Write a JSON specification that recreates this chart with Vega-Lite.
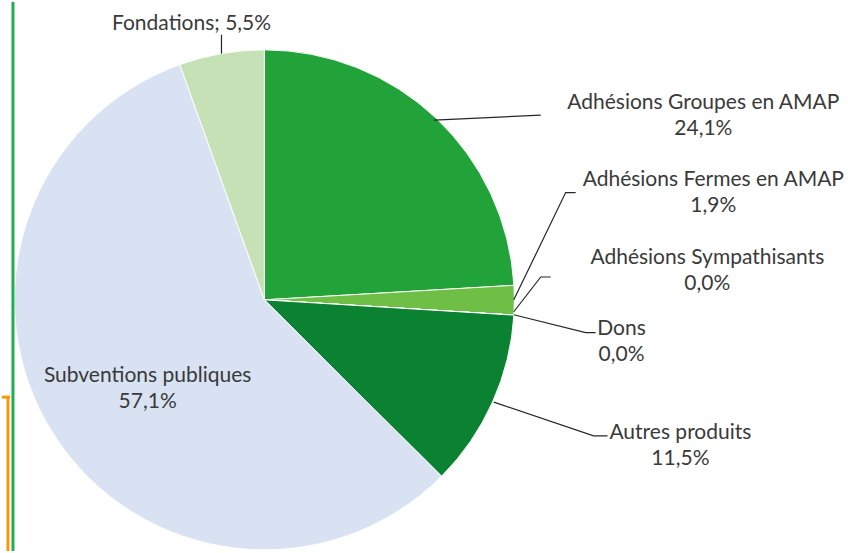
{
  "$schema": "https://vega.github.io/schema/vega-lite/v6.json",
  "autosize": {"type": "fit", "contains": "padding"},
  "width": 848,
  "height": 553,
  "padding": 0,
  "background": "white",
  "config": {"view": {"stroke": null}},
  "datasets": {
    "slices": [
      {"i": 1, "cat": "Adhésions Groupes en AMAP", "pct": 24.1},
      {"i": 2, "cat": "Adhésions Fermes en AMAP", "pct": 1.9},
      {"i": 3, "cat": "Adhésions Sympathisants", "pct": 0.0},
      {"i": 4, "cat": "Dons", "pct": 0.0},
      {"i": 5, "cat": "Autres produits", "pct": 11.5},
      {"i": 6, "cat": "Subventions publiques", "pct": 57.1},
      {"i": 7, "cat": "Fondations", "pct": 5.5}
    ],
    "labels": [
      {"cat": "Fondations", "label": "Fondations; 5,5%", "lx": 190, "ly": 22},
      {"cat": "Adhésions Groupes en AMAP", "label": "Adhésions Groupes en AMAP\n24,1%", "lx": 703, "ly": 102},
      {"cat": "Adhésions Fermes en AMAP", "label": "Adhésions Fermes en AMAP\n1,9%", "lx": 713, "ly": 179},
      {"cat": "Adhésions Sympathisants", "label": "Adhésions Sympathisants\n0,0%", "lx": 707, "ly": 258},
      {"cat": "Dons", "label": "Dons\n0,0%", "lx": 621, "ly": 329},
      {"cat": "Autres produits", "label": "Autres produits\n11,5%", "lx": 680, "ly": 434},
      {"cat": "Subventions publiques", "label": "Subventions publiques\n57,1%", "lx": 146, "ly": 377}
    ],
    "leaders": [
      {"cat": "Fondations", "k": 1, "lx": 220, "ly": 33},
      {"cat": "Fondations", "k": 2, "lx": 220, "ly": 52},
      {"cat": "Groupes", "k": 1, "lx": 433, "ly": 119},
      {"cat": "Groupes", "k": 2, "lx": 540, "ly": 114},
      {"cat": "Fermes", "k": 1, "lx": 513, "ly": 300},
      {"cat": "Fermes", "k": 2, "lx": 565, "ly": 192},
      {"cat": "Fermes", "k": 3, "lx": 575, "ly": 192},
      {"cat": "Sympathisants", "k": 1, "lx": 513, "ly": 312},
      {"cat": "Sympathisants", "k": 2, "lx": 540, "ly": 277},
      {"cat": "Sympathisants", "k": 3, "lx": 550, "ly": 277},
      {"cat": "Dons", "k": 1, "lx": 513, "ly": 315},
      {"cat": "Dons", "k": 2, "lx": 585, "ly": 333},
      {"cat": "Dons", "k": 3, "lx": 595, "ly": 333},
      {"cat": "Autres", "k": 1, "lx": 493, "ly": 403},
      {"cat": "Autres", "k": 2, "lx": 593, "ly": 437},
      {"cat": "Autres", "k": 3, "lx": 607, "ly": 437}
    ]
  },
  "layer": [
    {
      "data": {"name": "slices"},
      "mark": {"type": "arc", "outerRadius": 250, "stroke": "white", "strokeWidth": 1},
      "encoding": {
        "x": {"datum": 263, "type": "quantitative", "scale": {"domain": [0, 848], "nice": false, "zero": false}, "axis": null},
        "y": {"datum": 300, "type": "quantitative", "scale": {"domain": [0, 553], "nice": false, "zero": false, "reverse": true}, "axis": null},
        "theta": {"field": "pct", "type": "quantitative", "stack": true},
        "order": {"field": "i", "type": "quantitative"},
        "color": {
          "field": "cat",
          "type": "nominal",
          "legend": null,
          "scale": {
            "domain": ["Adhésions Groupes en AMAP", "Adhésions Fermes en AMAP", "Adhésions Sympathisants", "Dons", "Autres produits", "Subventions publiques", "Fondations"],
            "range": ["#22a33a", "#6fbe46", "#a9d18e", "#548235", "#0b8132", "#d9e2f3", "#c6e1b5"]
          }
        }
      }
    },
    {
      "data": {"name": "leaders"},
      "mark": {"type": "line", "color": "#262626", "strokeWidth": 1.2},
      "encoding": {
        "x": {"field": "lx", "type": "quantitative"},
        "y": {"field": "ly", "type": "quantitative"},
        "detail": {"field": "cat"},
        "order": {"field": "k", "type": "quantitative"}
      }
    },
    {
      "data": {"name": "labels"},
      "mark": {"type": "text", "font": "Lato", "fontSize": 21, "lineBreak": "\n", "lineHeight": 26, "align": "center", "baseline": "middle", "color": "#3a3a3a"},
      "encoding": {
        "x": {"field": "lx", "type": "quantitative"},
        "y": {"field": "ly", "type": "quantitative"},
        "text": {"field": "label"}
      }
    },
    {
      "data": {"values": [{}]},
      "mark": {"type": "rule", "color": "#1db04f", "strokeWidth": 3},
      "encoding": {
        "x": {"datum": 11, "type": "quantitative"},
        "y": {"datum": 0, "type": "quantitative"},
        "y2": {"datum": 553}
      }
    },
    {
      "data": {"values": [{}]},
      "mark": {"type": "rule", "color": "#f59a0c", "strokeWidth": 3},
      "encoding": {
        "x": {"datum": 6, "type": "quantitative"},
        "y": {"datum": 398, "type": "quantitative"},
        "y2": {"datum": 553}
      }
    },
    {
      "data": {"values": [{}]},
      "mark": {"type": "rule", "color": "#f59a0c", "strokeWidth": 3},
      "encoding": {
        "x": {"datum": 0, "type": "quantitative"},
        "x2": {"datum": 8},
        "y": {"datum": 398, "type": "quantitative"}
      }
    }
  ]
}
